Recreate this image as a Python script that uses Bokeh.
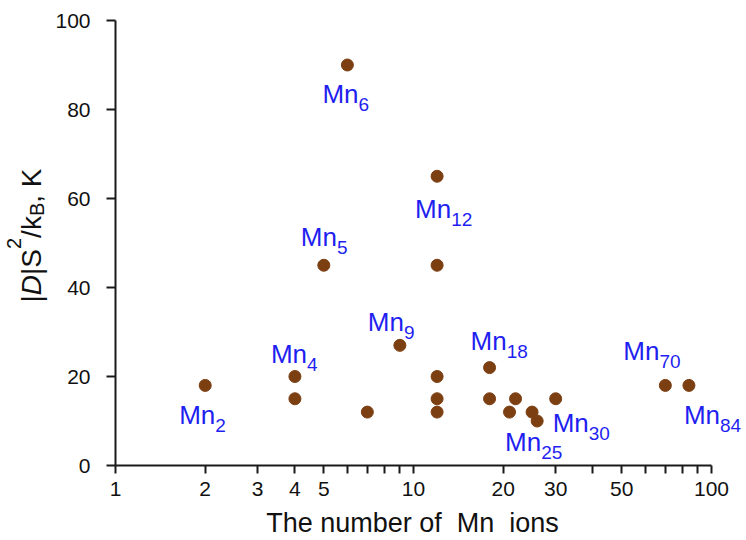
import math
from bokeh.plotting import figure
from bokeh.models import ColumnDataSource, FixedTicker, LabelSet, Label
from bokeh.core.properties import value
from bokeh.embed import file_html
from bokeh.resources import INLINE

# ---------------- data ----------------
n_ions = [2, 4, 4, 5, 6, 7, 9, 12, 12, 12, 12, 12, 18, 18, 21, 22, 25, 26, 30, 70, 84]
d_s2 = [18, 20, 15, 45, 90, 12, 27, 65, 45, 20, 15, 12, 22, 15, 12, 15, 12, 10, 15, 18, 18]

label_sub = ["2", "4", "5", "6", "9", "12", "18", "25", "30", "70", "84"]
label_x = [2, 4, 5, 6, 9, 12, 18, 25, 30, 70, 84]
label_y = [18, 20, 45, 90, 27, 65, 22, 12, 15, 18, 18]
# pixel offsets of each label ("Mn" left edge, baseline) from its point; screen y down
label_dx = [-26, -24, -23, -25, -32, -22, -19, -27, -3, -42, -5]
label_dy = [39, -14, -19, 38, -14, 42, -18, 39, 33, -25, 39]

x_ticks = [1, 2, 3, 4, 5, 6, 7, 8, 9, 10, 20, 30, 40, 50, 60, 70, 80, 90, 100]
x_tick_labels = ["1", "2", "3", "4", "5", "", "", "", "", "10", "20", "30", "", "50", "", "", "", "", "100"]
y_ticks = [0, 20, 40, 60, 80, 100]

x_title = "The number of\u00a0 Mn\u00a0 ions"
# y title pieces: text, role (n=normal, i=italic, sup, sub)
y_title_pieces = [("|", "n"), ("D", "i"), ("|S", "n"), ("2", "sup"), ("/k", "n"), ("B", "sub"), (", K", "n")]

FONT = "Liberation Sans"
PT_COLOR = "#7c3f12"
LBL_COLOR = "#1f1ff0"
AX_COLOR = "#1a1a1a"
TXT_COLOR = "#111111"

W, H = 746, 540
# pixel geometry of the plotting area (the axes are drawn inside a full-size frame)
X0_PX, DEC_PX = 115, 298        # x=1 position, pixels per decade
Y0_PX, UNIT_PX = 465, 4.45      # y=0 position, pixels per unit
x_lo = 10 ** (-X0_PX / DEC_PX)
x_hi = 10 ** ((W - X0_PX) / DEC_PX)
y_hi = Y0_PX / UNIT_PX
y_lo = (Y0_PX - H) / UNIT_PX

p = figure(width=W, height=H, x_axis_type="log", x_range=(x_lo, x_hi), y_range=(y_lo, y_hi),
           output_backend="svg", toolbar_location=None, title=None, min_border=0)
p.outline_line_color = None
p.xgrid.visible = False
p.ygrid.visible = False

p.xaxis.ticker = FixedTicker(ticks=x_ticks, minor_ticks=[])
p.xaxis.major_label_overrides = {t: l for t, l in zip(x_ticks, x_tick_labels)}
p.xaxis.bounds = (1, 100)
p.xaxis.fixed_location = 0
p.yaxis.ticker = FixedTicker(ticks=y_ticks, minor_ticks=[])
p.yaxis.major_label_overrides = {t: str(t) for t in y_ticks}
p.yaxis.bounds = (0, 100)
p.yaxis.fixed_location = 1
for ax in (p.xaxis, p.yaxis):
    ax.axis_line_color = AX_COLOR
    ax.axis_line_width = 2
    ax.major_tick_line_color = AX_COLOR
    ax.major_tick_line_width = 2
    ax.major_tick_in = 0
    ax.minor_tick_line_color = None
    ax.major_label_text_font = FONT
    ax.major_label_text_font_size = "21px"
    ax.major_label_text_color = TXT_COLOR
p.xaxis.major_tick_out = 8
p.yaxis.major_tick_out = 9
p.xaxis.major_label_standoff = 8
p.yaxis.major_label_standoff = 16

# points
src = ColumnDataSource(dict(x=n_ions, y=d_s2))
p.scatter("x", "y", source=src, size=12, fill_color=PT_COLOR, line_color=PT_COLOR)

# point labels: "Mn" + subscript number
MAIN = 26
SUB = 19
mn_w = 1.389 * MAIN
lsrc = ColumnDataSource(dict(
    x=label_x, y=label_y,
    mn=["Mn"] * len(label_sub), sub=label_sub,
    xo=label_dx, yo=[-d for d in label_dy],
    xo2=[d + mn_w for d in label_dx], yo2=[-(d + 8) for d in label_dy],
))
p.add_layout(LabelSet(x="x", y="y", text="mn", source=lsrc, x_offset="xo", y_offset="yo",
                      text_font=value(FONT), text_font_size=value(f"{MAIN}px"),
                      text_color=value(LBL_COLOR),
                      text_align="left", text_baseline="alphabetic"))
p.add_layout(LabelSet(x="x", y="y", text="sub", source=lsrc, x_offset="xo2", y_offset="yo2",
                      text_font=value(FONT), text_font_size=value(f"{SUB}px"),
                      text_color=value(LBL_COLOR),
                      text_align="left", text_baseline="alphabetic"))

# x-axis title, placed relative to the axis origin (1, 0)
p.add_layout(Label(x=1, y=0, text=x_title, x_offset=412 - X0_PX, y_offset=Y0_PX - 522,
                   text_font=FONT, text_font_size="27px", text_color=TXT_COLOR,
                   text_align="center", text_baseline="alphabetic"))

# y-axis title |D|S²/k_B, K composed of pieces, rotated
F = 28
S = 20
adv = {"|": 0.260, "D": 0.722, "|S": 0.927, "2": 0.556, "/k": 0.778, "B": 0.667, ", K": 1.223}
base_x = 31
widths = [adv[t] * (S if r in ("sup", "sub") else F) for t, r in y_title_pieces]
total = sum(widths)
start_sy = 235 + total / 2
along = 0.0
for (t, r), w in zip(y_title_pieces, widths):
    size = S if r in ("sup", "sub") else F
    bx = base_x - 18 if r == "sup" else (base_x + 5 if r == "sub" else base_x)
    p.add_layout(Label(x=1, y=0, text=t, x_offset=bx - X0_PX,
                       y_offset=Y0_PX - (start_sy - along), angle=math.pi / 2,
                       text_font=FONT, text_font_size=f"{size}px",
                       text_font_style="italic" if r == "i" else "normal",
                       text_color=TXT_COLOR, text_align="left", text_baseline="alphabetic"))
    along += w

open("out.html", "w").write(file_html(p, INLINE))
